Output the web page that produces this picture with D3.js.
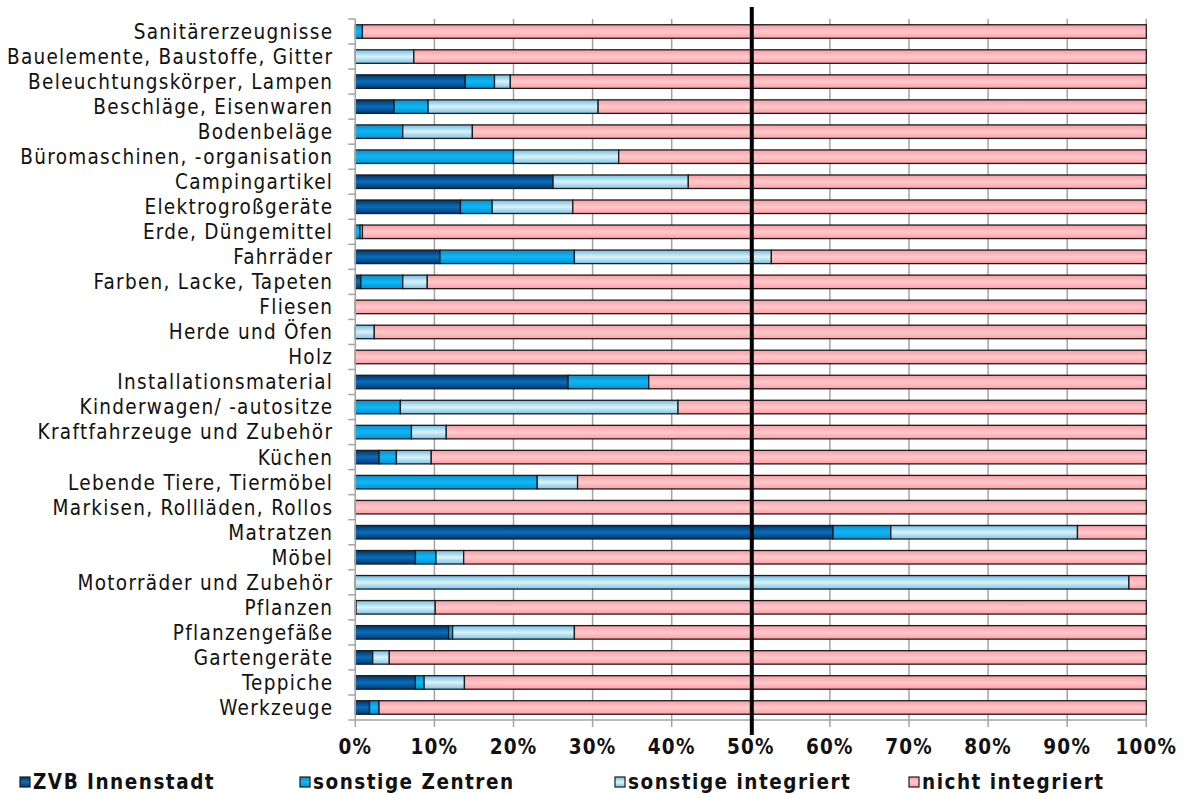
<!DOCTYPE html>
<html><head><meta charset="utf-8">
<script src="https://cdn.jsdelivr.net/npm/d3@7"></script>
<style>body{margin:0;background:#fff}</style></head>
<body>
<svg id="c" width="1183" height="798"></svg>
<script>
const categories = ["Sanitärerzeugnisse","Bauelemente, Baustoffe, Gitter","Beleuchtungskörper, Lampen","Beschläge, Eisenwaren","Bodenbeläge","Büromaschinen, -organisation","Campingartikel","Elektrogroßgeräte","Erde, Düngemittel","Fahrräder","Farben, Lacke, Tapeten","Fliesen","Herde und Öfen","Holz","Installationsmaterial","Kinderwagen/ -autositze","Kraftfahrzeuge und Zubehör","Küchen","Lebende Tiere, Tiermöbel","Markisen, Rollläden, Rollos","Matratzen","Möbel","Motorräder und Zubehör","Pflanzen","Pflanzengefäße","Gartengeräte","Teppiche","Werkzeuge"];
const zvbInnenstadt      = [0,0,13.9,4.9,0,0,25.0,13.3,0,10.7,0.7,0,0,0,26.9,0,0,3.0,0,0,60.4,7.6,0,0,11.8,2.2,7.6,1.8];
const sonstigeZentren    = [0.9,0,3.7,4.3,6.0,20.0,0,4.0,0.6,17.0,5.3,0,0,0,10.2,5.7,7.1,2.2,23.0,0,7.3,2.6,0,0.1,0.5,0,1.1,1.2];
const sonstigeIntegriert = [0,7.4,2.0,21.5,8.8,13.3,17.1,10.2,0.3,24.9,3.1,0,2.4,0,0,35.1,4.4,4.4,5.1,0,23.6,3.5,97.8,10.0,15.4,2.1,5.1,0];
const nichtIntegriert    = [99.1,92.6,80.4,69.3,85.2,66.7,57.9,72.5,99.1,47.4,90.9,100,97.6,100,62.9,59.2,88.5,90.4,71.9,100,8.7,86.3,2.2,89.9,72.3,95.7,86.2,97.0];
const seriesNames = ["ZVB Innenstadt","sonstige Zentren","sonstige integriert","nicht integriert"];
const tickValues = [0,10,20,30,40,50,60,70,80,90,100];

const seriesData = [zvbInnenstadt, sonstigeZentren, sonstigeIntegriert, nichtIntegriert];
const grads = [
  ["#003466","#0a6dba","#003a72"],
  ["#0092d4","#12b6f2","#0094d6"],
  ["#6ebee6","#dcf2f6","#7ac4ea"],
  ["#ff9aa2","#ffcacc","#ff9ea6"]
];
const FONT = "DejaVu Sans Condensed";

const svg = d3.select("#c");
const defs = svg.append("defs");
grads.forEach((g,i)=>{
  const lg = defs.append("linearGradient").attr("id","g"+i).attr("x1",0).attr("y1",0).attr("x2",0).attr("y2",1);
  lg.append("stop").attr("offset","0%").attr("stop-color",g[0]);
  lg.append("stop").attr("offset","50%").attr("stop-color",g[1]);
  lg.append("stop").attr("offset","100%").attr("stop-color",g[2]);
});

const x = d3.scaleLinear().domain([0,100]).range([355.3,1146.3]);
const y = d3.scaleBand().domain(categories).range([19,720]).paddingInner(0.46).paddingOuter(0.23);

// gridlines
svg.append("g").selectAll("line").data(tickValues.slice(1)).join("line")
  .attr("x1",d=>x(d)).attr("x2",d=>x(d)).attr("y1",19).attr("y2",720)
  .attr("stroke","#a3a3a3").attr("stroke-width",1.5);

// stacked bars
const rows = categories.map((c,i)=>{
  let acc=0; const segs=[];
  seriesData.forEach((s,k)=>{ const v=s[i]; if(v>0){segs.push({c,k,x0:acc,x1:acc+v}); } acc+=v; });
  return segs;
}).flat();

svg.append("g").selectAll("rect").data(rows).join("rect")
  .attr("x",d=>x(d.x0)).attr("width",d=>Math.max(0,x(d.x1)-x(d.x0)))
  .attr("y",d=>y(d.c)).attr("height",y.bandwidth())
  .attr("fill",d=>"url(#g"+d.k+")")
  .attr("stroke","#1c1c1c").attr("stroke-width",1.3);

// left axis
const yAxis = svg.append("g").attr("transform","translate(355.3,0)");
yAxis.append("line").attr("x1",0).attr("x2",0).attr("y1",19).attr("y2",720).attr("stroke","#a3a3a3").attr("stroke-width",1.5);
const bounds = categories.map(c=>y(c)-y.step()*y.paddingInner()/2).concat([720]);
yAxis.selectAll(".t").data(bounds).join("line").attr("class","t")
  .attr("x1",-7).attr("x2",0).attr("y1",d=>d).attr("y2",d=>d).attr("stroke","#a3a3a3").attr("stroke-width",1.5);
yAxis.selectAll("text").data(categories).join("text")
  .attr("x",-22).attr("y",c=>y(c)+y.bandwidth()/2).attr("dy","0.36em")
  .attr("text-anchor","end").attr("font-family",FONT).attr("font-size",20.5)
  .attr("letter-spacing","1.3px").attr("fill","#111").text(c=>c);

// bottom axis
const xAxis = svg.append("g");
xAxis.append("line").attr("x1",x(0)).attr("x2",x(100)).attr("y1",720).attr("y2",720).attr("stroke","#a3a3a3").attr("stroke-width",1.5);
xAxis.selectAll(".t").data(tickValues).join("line").attr("class","t")
  .attr("x1",d=>x(d)).attr("x2",d=>x(d)).attr("y1",720).attr("y2",727).attr("stroke","#a3a3a3").attr("stroke-width",1.5);
xAxis.selectAll("text").data(tickValues).join("text")
  .attr("x",d=>x(d)).attr("y",754).attr("text-anchor","middle")
  .attr("font-family",FONT).attr("font-weight","bold").attr("font-size",20.5)
  .attr("letter-spacing","1.2px").attr("fill","#111").text(d=>d+"%");

// 50% marker line
svg.append("line").attr("x1",x(50)+1).attr("x2",x(50)+1).attr("y1",7).attr("y2",735)
  .attr("stroke","#000").attr("stroke-width",4);

// legend
const legX = [20,300,615,909];
const leg = svg.append("g").selectAll("g").data(seriesNames).join("g")
  .attr("transform",(d,i)=>`translate(${legX[i]},782)`);
leg.append("rect").attr("x",0).attr("y",-5).attr("width",10).attr("height",10)
  .attr("fill",(d,i)=>"url(#g"+i+")").attr("stroke","#1c1c1c").attr("stroke-width",1.2);
leg.append("text").attr("x",13).attr("y",0).attr("dy","0.36em")
  .attr("font-family",FONT).attr("font-weight","bold").attr("font-size",20.5)
  .attr("letter-spacing","1.5px").attr("fill","#111").text(d=>d);
</script>
</body></html>
